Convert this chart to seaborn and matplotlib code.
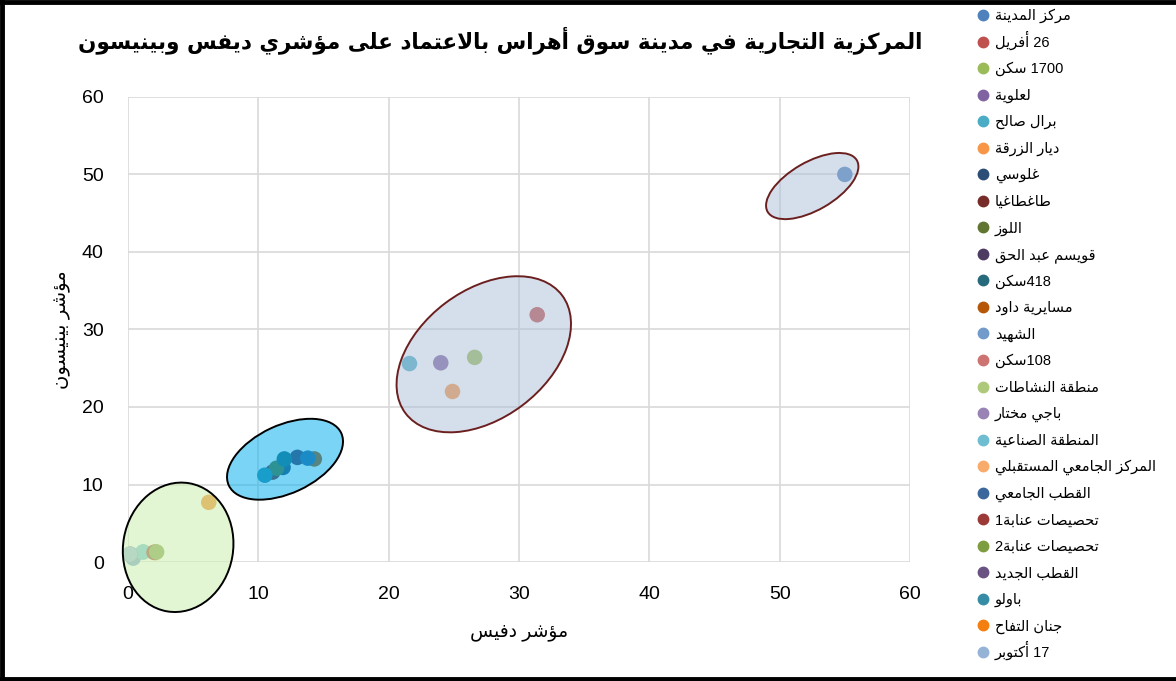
import re

import matplotlib
matplotlib.use("Agg")
import matplotlib.pyplot as plt
import pandas as pd
import seaborn as sns
from matplotlib.colors import to_rgba
from matplotlib.lines import Line2D
from matplotlib.patches import Ellipse
from matplotlib.transforms import ScaledTranslation

# --- data ---
names = [
    "مركز المدينة", "26 أفريل", "1700 سكن", "لعلوية", "برال صالح", "ديار الزرقة",
    "غلوسي", "طاغطاغيا", "اللوز", "قويسم عبد الحق", "418سكن", "مسايرية داود",
    "الشهيد", "108سكن", "منطقة النشاطات", "باجي مختار", "المنطقة الصناعية",
    "المركز الجامعي المستقبلي", "القطب الجامعي", "تحصيصات عنابة1", "تحصيصات عنابة2",
    "القطب الجديد", "باولو", "جنان التفاح", "17 أكتوبر",
]
davies = [55.0, 31.4, 26.6, 24.0, 21.6, 24.9,
          11.9, 11.1, 11.4, 13.0, 12.0, 14.3,
          0.4, 2.1, 1.2, 0.2, 1.15,
          2.1, 13.8, 2.0, 2.2,
          0.15, 10.5, 6.2, 0.15]
bennison = [50.0, 31.9, 26.4, 25.7, 25.6, 22.0,
            12.2, 11.6, 12.1, 13.5, 13.3, 13.3,
            0.5, 1.3, 1.3, 1.0, 1.3,
            1.2, 13.4, 1.25, 1.3,
            1.0, 11.2, 7.7, 1.0]
colors = ["#4f81bd", "#c0504d", "#9bbb59", "#8064a2", "#4bacc6", "#f79646",
          "#2c4d75", "#772c2a", "#5f7530", "#4d3b62", "#276a7c", "#b65708",
          "#729aca", "#cd7371", "#afc97a", "#9983b5", "#6fbdd1", "#f9ab6b",
          "#3a679c", "#9c3a38", "#7e9c40", "#6a5282", "#358ca4", "#f47e10", "#95b3d7"]

title = "المركزية التجارية في مدينة سوق أهراس بالاعتماد على مؤشري ديفس وبينيسون"
xlabel = "مؤشر دفيس"
ylabel = "مؤشر بينيسون"
ticks = [0, 10, 20, 30, 40, 50, 60]

# cluster shapes drawn over the points: centre in data units, size in pixels
clusters = [
    ((3.85, 1.9), 130, 110, 80, "#cff1b7", 0.6, "black"),
    ((12.05, 13.26), 124, 68, 25, "#00aeef", 0.52, "black"),
    ((27.3, 26.8), 196, 128, 37, "#adc1d9", 0.5, "#6b1f1f"),
    ((52.5, 48.5), 103, 48, 30, "#adc1d9", 0.5, "#6b1f1f"),
]


# --- minimal arabic shaping + rtl ordering (matplotlib does neither) ---
ARABIC_LETTERS = "ءآأؤإئابةتثجحخدذرزسشصضطظعغفقكلمنهوىي"
FORM_COUNTS = "12222424244444" + "2222" + "4" * 15 + "224"
LAM_ALEF = {"آ": 0xFEF5, "أ": 0xFEF7, "إ": 0xFEF9, "ا": 0xFEFB}


def _build_forms():
    forms, code = {}, 0xFE80
    for letter, n in zip(ARABIC_LETTERS, FORM_COUNTS):
        n = int(n)
        forms[letter] = [chr(code + i) for i in range(n)]  # iso, fin, ini, med
        code += n
    return forms


FORMS = _build_forms()


def _shape(text):
    out, prev_joins, i = [], False, 0
    while i < len(text):
        ch = text[i]
        nxt = text[i + 1] if i + 1 < len(text) else ""
        if ch not in FORMS:
            out.append(ch)
            prev_joins = False
            i += 1
            continue
        if ch == "ل" and nxt in LAM_ALEF:
            out.append(chr(LAM_ALEF[nxt] + (1 if prev_joins else 0)))
            prev_joins = False
            i += 2
            continue
        forms = FORMS[ch]
        joins_next = len(forms) == 4 and nxt in FORMS
        if prev_joins and joins_next:
            out.append(forms[3])
        elif prev_joins:
            out.append(forms[1] if len(forms) > 1 else forms[0])
        elif joins_next:
            out.append(forms[2])
        else:
            out.append(forms[0])
        prev_joins = len(forms) == 4
        i += 1
    return "".join(out)


def ar(text):
    runs = re.findall(r"\d+|\D+", _shape(text))
    return "".join(r if r.isdigit() else r[::-1] for r in reversed(runs))


# --- plot ---
frame = pd.DataFrame({"name": [ar(n) for n in names], "davies": davies, "bennison": bennison})

sns.set_style("whitegrid")
plt.rcParams["font.family"] = ["Liberation Sans", "DejaVu Sans"]
plt.rcParams["text.color"] = "black"
plt.rcParams["axes.labelcolor"] = "black"

fig = plt.figure(figsize=(11.76, 6.81), dpi=100)
ax = fig.add_axes([0.1088, 0.1747, 0.665, 0.683])

sns.scatterplot(data=frame, x="davies", y="bennison", hue="name", palette=colors,
                s=125, linewidth=0, legend=False, zorder=3, clip_on=False, ax=ax)

for (cx, cy), w, h, ang, face, alpha, edge in clusters:
    ell = Ellipse((0, 0), w, h, angle=ang, facecolor=to_rgba(face, alpha),
                  edgecolor=edge, linewidth=1.4, zorder=4, clip_on=False,
                  transform=ScaledTranslation(cx, cy, ax.transData))
    ax.add_patch(ell)

ax.set_xlim(0, 60)
ax.set_ylim(0, 60)
ax.set_xticks(ticks)
ax.set_yticks(ticks)
ax.tick_params(axis="both", labelsize=14, pad=14, colors="black")
ax.grid(color="#d9d9d9", linewidth=1.2)
for spine in ax.spines.values():
    spine.set_visible(False)
ax.set_xlabel(ar(xlabel), fontsize=13.5, labelpad=15)
ax.set_ylabel(ar(ylabel), fontsize=14, labelpad=8)

fig.text(0.425, 0.941, ar(title), ha="center", va="center", fontsize=15.5,
         weight="bold", family="DejaVu Sans")

# legend laid out like the exported chart: fixed row pitch down the right side
for i, (name, c) in enumerate(zip(names, colors)):
    y = 1 - (15 + i * 26.54) / 681
    fig.add_artist(Line2D([983 / 1176], [y], marker="o", linestyle="", color=c,
                          markersize=7.5, transform=fig.transFigure))
    fig.text(995 / 1176, y - 5 / 681, ar(name), ha="left", va="baseline", fontsize=10.5)

# outer frame (top, left, bottom)
for xs, ys in [((0, 1), (0.997, 0.997)), ((0.002, 0.002), (0, 1)), ((0, 1), (0.003, 0.003))]:
    fig.add_artist(Line2D(xs, ys, color="black", linewidth=3.5, transform=fig.transFigure))

fig.savefig("out.png", dpi=100)
